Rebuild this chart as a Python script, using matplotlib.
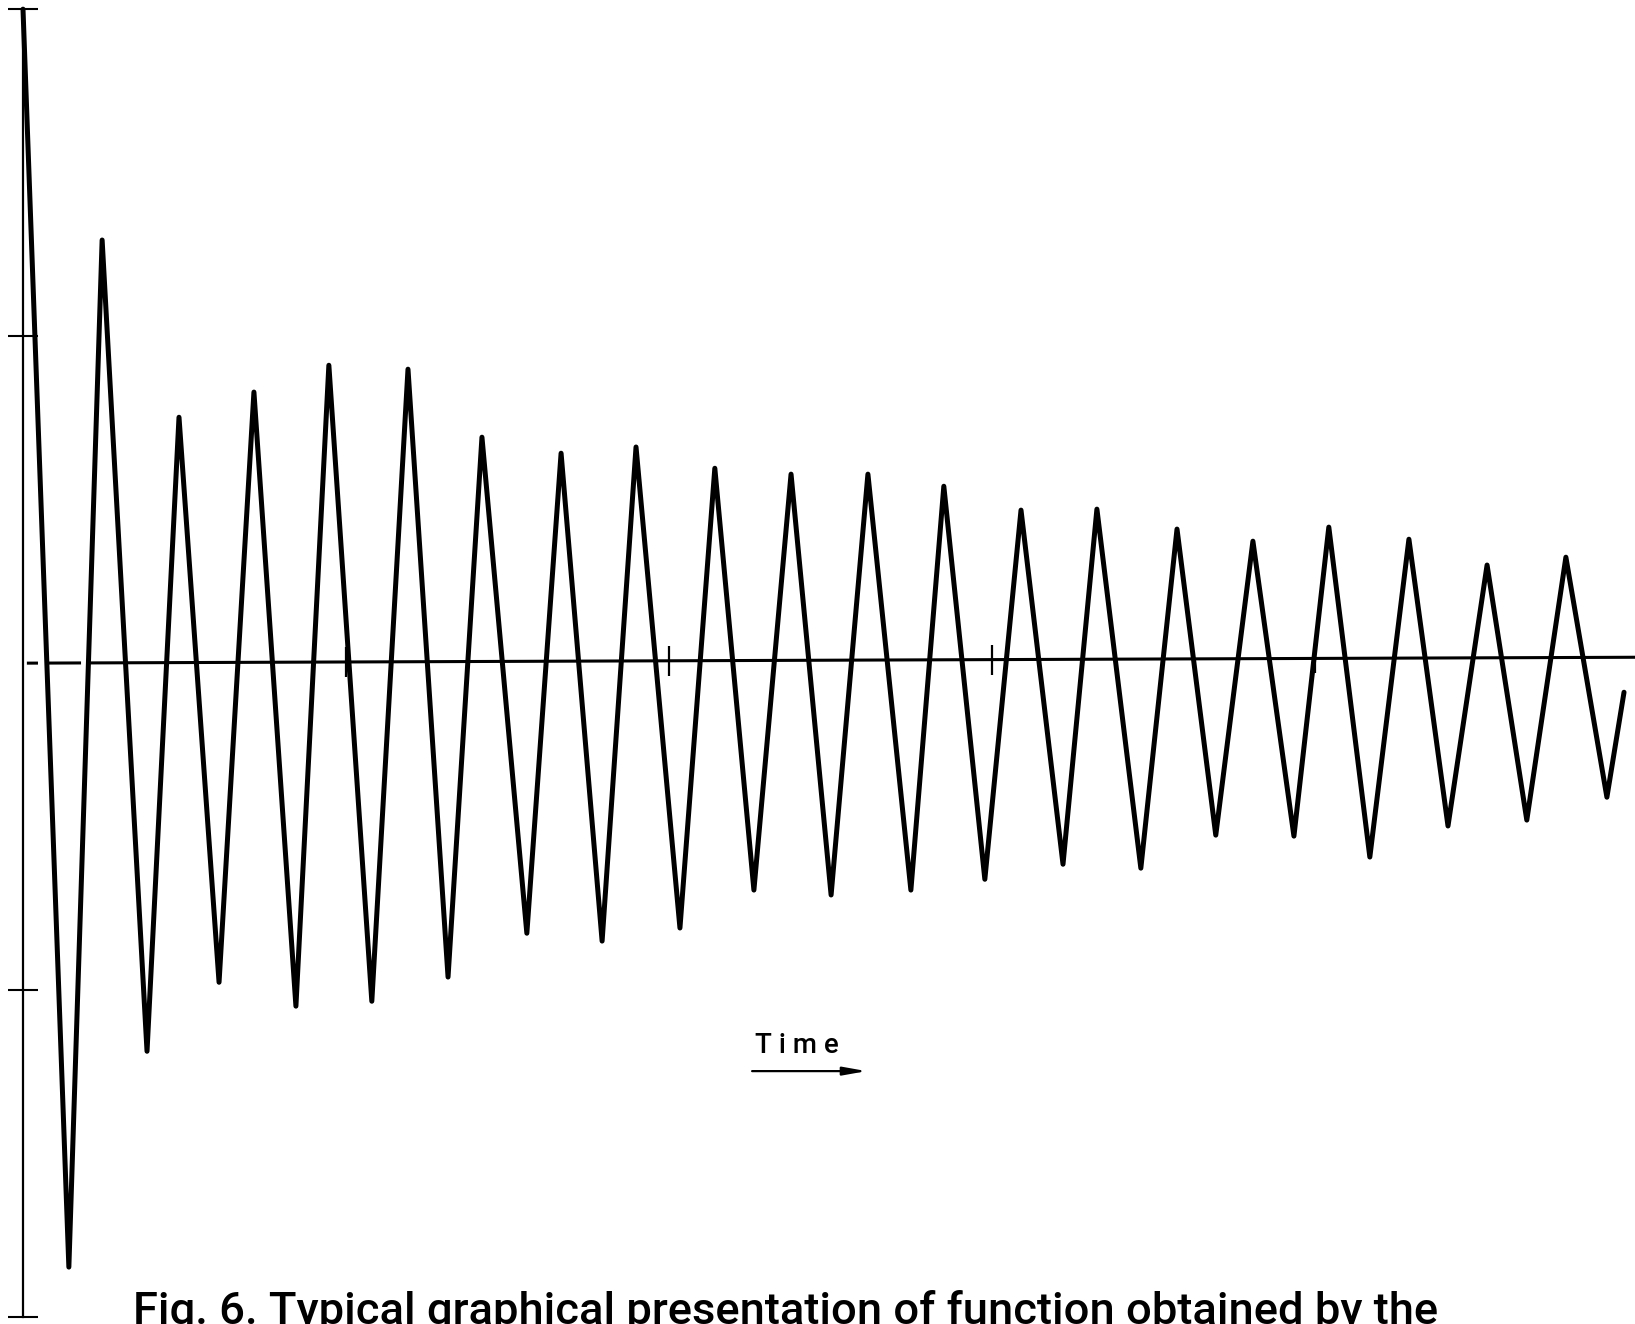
import matplotlib
matplotlib.use("Agg")
import matplotlib.pyplot as plt

# turning points of the trace (time in units of the marks on the base line,
# amplitude in units of the marks on the vertical axis)
peak_times = [0.0, 0.142, 0.245, 0.384, 0.483, 0.607, 0.715, 0.845, 0.947, 1.080,
              1.192, 1.316, 1.421, 1.560, 1.666, 1.793, 1.898, 2.034, 2.142, 2.263,
              2.378, 2.502, 2.616, 2.749, 2.851, 2.978, 3.090, 3.220, 3.325, 3.461,
              3.573, 3.693, 3.808, 3.935, 4.043, 4.170, 4.291, 4.412, 4.533, 4.656,
              4.777, 4.904, 4.957]
peak_values = [2.0, -1.847, 1.294, -1.187, 0.752, -0.976, 0.829, -1.049, 0.911, -1.034,
               0.899, -0.960, 0.691, -0.826, 0.642, -0.850, 0.661, -0.810, 0.596, -0.694,
               0.578, -0.709, 0.578, -0.694, 0.541, -0.661, 0.468, -0.615, 0.471, -0.627,
               0.410, -0.526, 0.373, -0.529, 0.416, -0.593, 0.379, -0.498, 0.300, -0.480,
               0.324, -0.410, -0.089]

time_marks = [1, 2, 3, 4]
amp_ticks = [-2, -1, 1, 2]
base_tilt = 0.018   # base line drifts up slightly to the right

caption = "Fig. 6. Typical graphical presentation of function obtained by the"

plt.rcParams["lines.scale_dashes"] = False

fig = plt.figure(figsize=(16.35, 13.24), dpi=100)
ax = fig.add_axes([0, 0, 1, 1])
ax.set_xlim(-0.0712, 4.991)
ax.set_ylim(-2.021, 2.028)

# base line, broken into dashes near the axis
ax.plot([0.012, 4.991], [0.0, base_tilt], color="black", lw=2.2,
        linestyle=(0, (8, 7, 24, 4.3, 5000)), solid_capstyle="butt")
ax.plot(time_marks, [base_tilt * t / 5 for t in time_marks], linestyle="none",
        marker="|", markersize=21, markeredgewidth=1.6, color="black")

# trace
ax.plot(peak_times, peak_values, color="black", lw=3.6,
        solid_joinstyle="round", solid_capstyle="round")

# vertical axis
for side in ["top", "right", "bottom"]:
    ax.spines[side].set_visible(False)
ax.spines["left"].set_position(("data", 0))
ax.spines["left"].set_bounds(-2, 2)
ax.spines["left"].set_linewidth(1.6)
ax.set_yticks(amp_ticks)
ax.set_yticklabels([])
ax.tick_params(axis="y", direction="inout", length=22, width=1.5)
ax.set_xticks([])

# time label and arrow
fig.text(0.4875, 0.2105, "T i m e", ha="center", va="center", fontsize=20,
         family="Roboto", weight="medium")
ax.annotate("", xy=(0.530, 0.191), xytext=(0.460, 0.191),
            xycoords="figure fraction", textcoords="figure fraction",
            arrowprops=dict(arrowstyle="-|>,head_length=1.4,head_width=0.25",
                            color="black", lw=1.6, shrinkA=0, shrinkB=0))

# caption, cut off at the bottom edge as in the scan
fig.text(0.0813, -0.0003, caption, ha="left", va="baseline", fontsize=32.7,
         family="Roboto", weight="medium")

fig.savefig("out.png", dpi=100)
